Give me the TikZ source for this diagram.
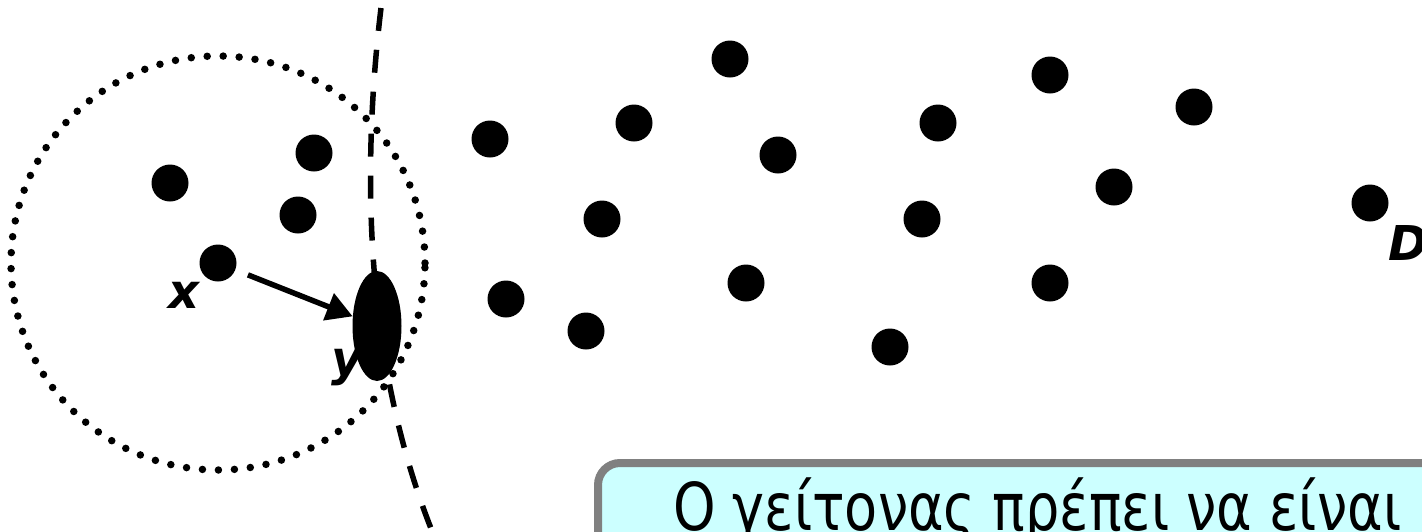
\documentclass[tikz,border=0pt]{standalone}
\usepackage{fontspec}
\newfontfamily\grfont[FakeStretch=0.82]{DejaVu Sans}
\newfontfamily\lblfont{DejaVu Sans}
\usetikzlibrary{arrows.meta,shapes.geometric,positioning}
\definecolor{notefill}{HTML}{CCFFFF}
\definecolor{noteline}{HTML}{808080}

\begin{document}
\begin{tikzpicture}[x=1pt,y=-1pt,
  pt/.style={circle,fill=black,inner sep=0pt,minimum size=37pt},
  nb/.style={ellipse,fill=black,inner sep=0pt,minimum width=49pt,minimum height=110pt},
  lbl/.style={font=\lblfont\bfseries\itshape\fontsize{48}{48}\selectfont,inner sep=0pt,anchor=base west},
  nbhdring/.style={line width=7.5pt,line cap=round,dash pattern=on 0pt off 16pt},
  split/.style={line width=5.5pt,dash pattern=on 23pt off 19pt},
  arr/.style={-{Triangle[length=26pt,width=28pt]},line width=5.5pt,shorten <=13.5pt},
  note/.style={draw=noteline,line width=8pt,fill=notefill,rounded corners=22pt,
    font=\grfont\fontsize{66}{66}\selectfont,inner xsep=75pt,inner ysep=14pt,
    text height=53pt,text depth=60pt}]
 \useasboundingbox (0,0) rectangle (1422,531);
 \clip (0,0) rectangle (1422,531);
 % ---- boundary ----
 \draw[split] (381,8) .. controls (358,200) and (372,380) .. (432,531);
 % ---- points ----
 \node[pt] (X) at (218,263) {};
 \node[pt] (a1) at (170,183) {};
 \node[pt] (a2) at (314,153) {};
 \node[pt] (a3) at (298,215) {};
 \node[pt] (b1) at (490,139) {};
 \node[pt] (b2) at (634,123) {};
 \node[pt] (b3) at (730,59) {};
 \node[pt] (b4) at (778,155) {};
 \node[pt] (b5) at (602,219) {};
 \node[pt] (b6) at (506,299) {};
 \node[pt] (b7) at (586,331) {};
 \node[pt] (b8) at (746,283) {};
 \node[pt] (c1) at (938,123) {};
 \node[pt] (c2) at (922,219) {};
 \node[pt] (c3) at (890,347) {};
 \node[pt] (c4) at (1050,75) {};
 \node[pt] (c5) at (1194,107) {};
 \node[pt] (c6) at (1114,187) {};
 \node[pt] (c7) at (1050,283) {};
 \node[pt] (D) at (1370,203) {};
 % ---- neighbourhood of x ----
 \draw[nbhdring] (X) circle[radius=207pt];
 \node[lbl] (xl) at (168,308) {x};
 \node[lbl] (yl) at (331,375) {y};
 \node[lbl] (Dl) at (1388,260) {D};
 \node[nb] (Y) at (377,326) {};
 \draw[arr] (X) -- (Y);
 % ---- note ----
 \node[note,anchor=north west] (msg) at (594,459) {Ο γείτονας πρέπει να είναι};
\end{tikzpicture}
\end{document}
